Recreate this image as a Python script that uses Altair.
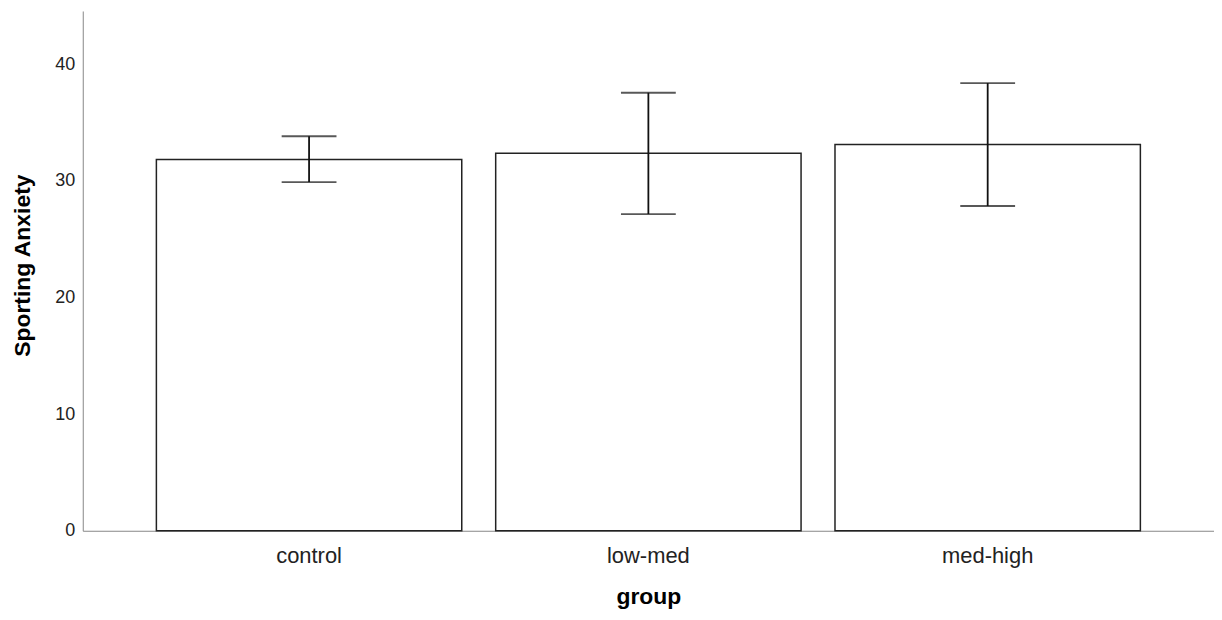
import altair as alt
import pandas as pd

groups = ["control", "low-med", "med-high"]
means = [31.84, 32.38, 33.12]
ci_low = [29.90, 27.16, 27.85]
ci_high = [33.83, 37.56, 38.39]

df = pd.DataFrame({"group": groups, "mean": means, "lo": ci_low, "hi": ci_high})

FONT = "Liberation Sans"

x = alt.X(
    "group:N",
    sort=groups,
    scale=alt.Scale(paddingInner=0.1, paddingOuter=0.217),
    axis=alt.Axis(
        title="group", labelAngle=0, ticks=False, domainColor="#888888",
        labelFont=FONT, labelFontSize=22, labelColor="#222222", labelPadding=15,
        titleFont=FONT, titleFontSize=23, titleFontWeight="bold", titleColor="#000000",
        titlePadding=19,
    ),
)
yscale = alt.Scale(domain=[0, 44.57], nice=False, zero=True)
yaxis = alt.Axis(
    title="Sporting Anxiety", values=[0, 10, 20, 30, 40], ticks=False, grid=False,
    domainColor="#888888", labelFont=FONT, labelFontSize=18, labelColor="#222222",
    labelPadding=8, titleFont=FONT, titleFontSize=23, titleFontWeight="bold",
    titleColor="#000000", titlePadding=20, titleY=255,
)

bars = alt.Chart(df).mark_bar(fill="white", stroke="#222222", strokeWidth=1.5).encode(
    x=x, y=alt.Y("mean:Q", scale=yscale, axis=yaxis)
)
rules = alt.Chart(df).mark_rule(color="#111111", strokeWidth=1.8).encode(
    x=x, y=alt.Y("lo:Q", scale=yscale), y2="hi:Q"
)
caps_lo = alt.Chart(df).mark_tick(color="#111111", size=55, thickness=1.8).encode(
    x=x, y=alt.Y("lo:Q", scale=yscale)
)
caps_hi = alt.Chart(df).mark_tick(color="#111111", size=55, thickness=1.8).encode(
    x=x, y=alt.Y("hi:Q", scale=yscale)
)

chart = alt.layer(bars, rules, caps_lo, caps_hi).properties(
    width=1135, height=521.5,
    autosize=alt.AutoSizeParams(type="none"),
    padding={"left": 75, "top": 2, "right": 0, "bottom": 80},
).configure_view(stroke=None)

chart.save("out.html", embed_options={"renderer": "svg", "actions": False})
